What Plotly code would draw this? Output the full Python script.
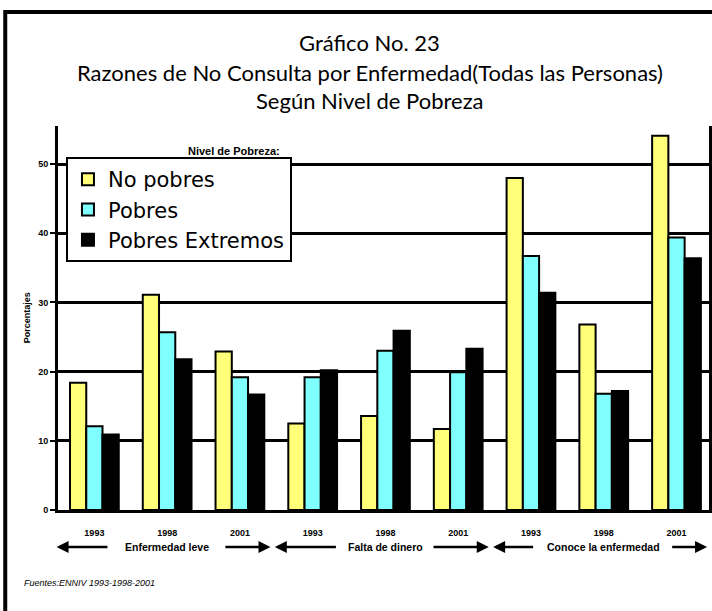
"""Gráfico No. 23 — Razones de No Consulta por Enfermedad, según nivel de pobreza."""

import plotly.graph_objects as go

# ── Data ──────────────────────────────────────────────────────────────────────
years = ["1993", "1998", "2001", "1993", "1998", "2001", "1993", "1998", "2001"]
reasons = ["Enfermedad leve", "Falta de dinero", "Conoce la enfermedad"]

no_pobres = [18.4, 31.1, 22.9, 12.5, 13.6, 11.7, 48.0, 26.8, 54.1]
pobres = [12.1, 25.7, 19.2, 19.2, 23.0, 19.9, 36.7, 16.8, 39.4]
pobres_extremos = [10.9, 21.8, 16.7, 20.2, 25.9, 23.3, 31.4, 17.2, 36.4]

y_ticks = [0, 10, 20, 30, 40, 50]

series = [
    ("No pobres", no_pobres, "#FFFF7A"),
    ("Pobres", pobres, "#80FFFF"),
    ("Pobres Extremos", pobres_extremos, "#000000"),
]

# ── Layout constants (pixels) ────────────────────────────────────────────────
W, H = 712, 611
L, R, T, B = 58, 0, 126, 101
PW, PH = W - L - R, H - T - B

# arrow tail offsets around each reason label (x units from group centre)
ARROW_GAPS = [(0.8, 0.78), (0.66, 0.64), (0.95, 0.92)]


def px_x(px):
    return (px - L) / PW


def px_y(py):
    return 1 - (py - T) / PH


LABEL_FONT = dict(family="Liberation Sans Narrow, Liberation Sans, Arial", size=9, color="#000")
REASON_FONT = dict(family="Liberation Sans Narrow, Liberation Sans, Arial", size=10.5, color="#000")

fig = go.Figure()
xs = list(range(len(years)))
for name, vals, col in series:
    fig.add_trace(
        go.Bar(
            x=xs,
            y=vals,
            name=name,
            marker=dict(color=col, line=dict(color="#000", width=2)),
        )
    )

# title lines
titles = [
    ("Gráfico No. 23", 42),
    ("Razones de No Consulta por Enfermedad(Todas las Personas)", 72),
    ("Según Nivel de Pobreza", 100),
]
annotations = [
    dict(
        text=t, x=px_x(371), y=px_y(yy), xref="paper", yref="paper",
        showarrow=False, xanchor="center", yanchor="middle",
        font=dict(family="Lato, Open Sans", size=22, color="#000"),
    )
    for t, yy in titles
]

# legend heading (sits above the legend box)
annotations.append(dict(
    text="<b>Nivel de Pobreza:</b>", x=px_x(187), y=px_y(143),
    xref="paper", yref="paper", showarrow=False,
    font=dict(family="Liberation Sans Narrow, Liberation Sans", size=11, color="#000"),
))

# y-axis title
annotations.append(dict(
    text="<b>Porcentajes</b>", x=px_x(20), y=0.5, xref="paper", yref="paper",
    textangle=-90, showarrow=False, font=LABEL_FONT,
))

# reason labels with arrows below the years
arrow_y = px_y(547)
for i, reason in enumerate(reasons):
    c = 3 * i + 1
    gl, gr = ARROW_GAPS[i]
    annotations.append(dict(
        text=f"<b>{reason}</b>", x=c, y=arrow_y, xref="x", yref="paper",
        showarrow=False, font=REASON_FONT, yanchor="middle",
    ))
    for tip, tail in [(c - 1.52, c - gl), (c + 1.42, c + gr)]:
        annotations.append(dict(
            text="", x=tip, y=arrow_y, xref="x", yref="paper",
            ax=tail, ay=0, axref="x", ayref="pixel",
            showarrow=True, arrowhead=2, arrowsize=1, arrowwidth=2.4,
            arrowcolor="#000",
        ))

# source note
annotations.append(dict(
    text="<i>Fuentes:ENNIV 1993-1998-2001</i>", x=px_x(22), y=px_y(590),
    xref="paper", yref="paper", xanchor="left", showarrow=False,
    font=dict(family="Liberation Sans Narrow, Liberation Sans", size=9, color="#000"),
))

# outer frame of the figure
shapes = [dict(
    type="rect", xref="paper", yref="paper",
    x0=px_x(5), x1=px_x(740), y0=px_y(640), y1=px_y(12),
    line=dict(color="#000", width=4), layer="below",
)]

fig.update_layout(
    width=W,
    height=H,
    margin=dict(l=L, r=R, t=T, b=B),
    paper_bgcolor="#ffffff",
    plot_bgcolor="#ffffff",
    barmode="group",
    bargap=0.33,
    bargroupgap=0,
    showlegend=True,
    legend=dict(
        x=px_x(66), y=px_y(157), xanchor="left", yanchor="top",
        bgcolor="#ffffff", bordercolor="#000", borderwidth=2,
        font=dict(family="DejaVu Sans, Verdana", size=21, color="#000"),
        tracegroupgap=0, itemwidth=30,
    ),
    xaxis=dict(
        range=[-0.5, -0.5 + PW / 73.1],
        tickvals=xs,
        ticktext=[f"<b>{y}</b>" for y in years],
        tickfont=LABEL_FONT,
        ticks="",
        ticklabelstandoff=12,
        showline=True, linecolor="#000", linewidth=3,
        showgrid=False, zeroline=False, fixedrange=True,
    ),
    yaxis=dict(
        range=[0, 55.5],
        tickvals=y_ticks,
        ticktext=[f"<b>{v}</b>" for v in y_ticks],
        tickfont=LABEL_FONT,
        ticks="outside", ticklen=5, tickwidth=2, tickcolor="#000",
        showline=True, linecolor="#000", linewidth=3, mirror=True,
        showgrid=True, gridcolor="#000", gridwidth=2.5,
        zeroline=False, fixedrange=True,
    ),
    annotations=annotations,
    shapes=shapes,
)

# page body has a default 8px margin; drop it so the figure sits at (0, 0)
fig.write_html(
    "out.html",
    config={"displayModeBar": False},
    post_script="document.body.style.margin='0px';",
)
